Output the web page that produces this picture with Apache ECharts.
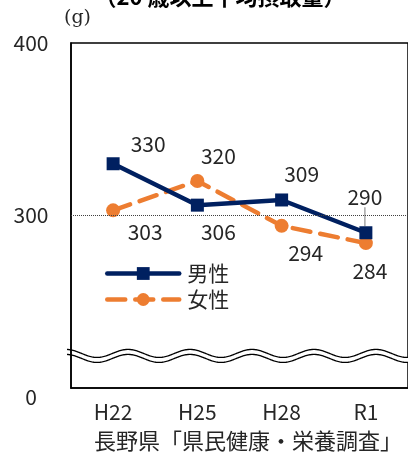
<!DOCTYPE html>
<html>
<head>
<meta charset="utf-8">
<script src="https://cdn.jsdelivr.net/npm/echarts@6/dist/echarts.min.js"></script>
<style>
html,body{margin:0;padding:0;background:#fff;}
#main{width:408px;height:457px;}
</style>
</head>
<body>
<div id="main"></div>
<script>
var years = ['H22', 'H25', 'H28', 'R1'];
var male = [330, 306, 309, 290];
var female = [303, 320, 294, 284];
// 200 is drawn below the wave break and shown as "0"
var yMin = 200, yMax = 400, yStep = 100;

// label offsets from each point (layout only)
var maleOff = [[35, -20], [21, 27], [20, -26], [-1, -36]];
var femaleOff = [[32, 22], [21, -25], [24, 27], [4, 28]];

var font = '"Noto Sans CJK JP", "Noto Sans", sans-serif';
var txt = '#262626';

function items(vals, offs, lineIdx) {
    return vals.map(function (v, i) {
        var it = { value: v, label: { offset: offs[i] } };
        if (i === lineIdx) {
            it.labelLine = { show: true, lineStyle: { color: '#a6a6a6', width: 1.5 } };
        }
        return it;
    });
}

var chart = echarts.init(document.getElementById('main'));
var option = {
    backgroundColor: '#fff',
    animation: false,
    textStyle: { fontFamily: font },
    grid: {
        left: 71, top: 43, width: 338, height: 345,
        show: true, borderColor: '#000', borderWidth: 1.5
    },
    legend: {
        orient: 'vertical',
        left: 100, top: 258,
        itemWidth: 72, itemHeight: 16, itemGap: 5,
        lineStyle: { width: 4.5, cap: 'round' },
        textStyle: { fontSize: 21, color: txt, fontFamily: font, padding: [0, 0, 0, 3] },
        data: ['男性', '女性']
    },
    xAxis: {
        type: 'category',
        data: years,
        axisLine: { lineStyle: { color: '#000', width: 1.5 } },
        axisTick: { show: false },
        axisLabel: { fontSize: 21, color: txt, margin: 14 }
    },
    yAxis: {
        type: 'value',
        min: yMin, max: yMax, interval: yStep,
        axisLine: { show: true, lineStyle: { color: '#000', width: 1.5 } },
        axisTick: { show: false },
        splitLine: { show: false },
        axisLabel: {
            fontSize: 21, color: txt, align: 'center', margin: 40,
            formatter: function (v) { return v === yMin ? '{z|0}' : String(v); },
            rich: { z: { fontSize: 21, color: txt, padding: [18, 0, 0, 0] } }
        }
    },
    series: [
        {
            name: '男性',
            type: 'line',
            data: items(male, maleOff, 3),
            symbol: 'rect',
            symbolSize: 13,
            itemStyle: { color: '#002060' },
            lineStyle: { color: '#002060', width: 4.5, cap: 'round' },
            label: {
                show: true, position: 'inside', fontSize: 21, color: txt,
                align: 'center', verticalAlign: 'middle'
            },
            markLine: {
                silent: true,
                symbol: 'none',
                label: { show: false },
                lineStyle: { color: '#404040', type: 'dotted', width: 1 },
                data: [{ yAxis: 300 }]
            },
            z: 3
        },
        {
            name: '女性',
            type: 'line',
            data: items(female, femaleOff, -1),
            symbol: 'circle',
            symbolSize: 14,
            itemStyle: { color: '#ED7D31' },
            lineStyle: { color: '#ED7D31', width: 4.5, type: [18, 10], cap: 'round' },
            label: {
                show: true, position: 'inside', fontSize: 21, color: txt,
                align: 'center', verticalAlign: 'middle'
            },
            z: 2
        }
    ]
};
chart.setOption(option);

// wave break across the y axis
var yc = chart.convertToPixel({ yAxisIndex: 0 }, 218.6);
var up = [], lo = [];
for (var x = 67; x <= 410; x += 1) {
    var d = 4 * Math.cos(2 * Math.PI * (x - 66) / 62);
    up.push([x, yc - 2.5 - d]);
    lo.push([x, yc + 2.5 - d]);
}
var fill = up.filter(function (p) { return p[0] >= 73; })
    .concat(lo.filter(function (p) { return p[0] >= 73; }).reverse());

chart.setOption({
    graphic: [
        { type: 'polygon', z: 100, shape: { points: fill }, style: { fill: '#fff' } },
        { type: 'polyline', z: 101, shape: { points: up }, style: { stroke: '#000', lineWidth: 1.3, fill: null } },
        { type: 'polyline', z: 101, shape: { points: lo }, style: { stroke: '#000', lineWidth: 1.3, fill: null } },
        {
            type: 'text', left: 64, top: 9,
            style: { text: '(g)', font: '19px "DejaVu Serif", serif', fill: txt }
        },
        {
            type: 'text', x: 220, y: 8,
            style: {
                text: '（20 歳以上平均摂取量）', font: 'bold 22px ' + font, fill: '#000',
                textAlign: 'center', textVerticalAlign: 'bottom'
            }
        },
        {
            type: 'text', x: 248, y: 441,
            style: {
                text: '長野県「県民健康・栄養調査」', font: '22px ' + font, fill: txt,
                textAlign: 'center', textVerticalAlign: 'middle'
            }
        }
    ]
});
</script>
</body>
</html>
